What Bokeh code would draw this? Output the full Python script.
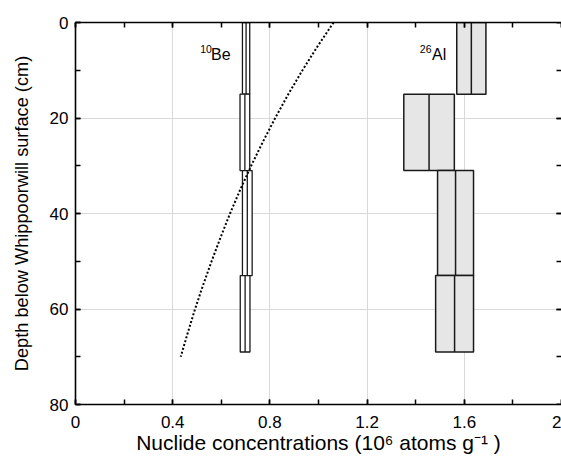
from bokeh.plotting import figure
from bokeh.models import (Range1d, SingleIntervalTicker, FixedTicker, LinearAxis, Label,
                          ColumnDataSource, CustomJSTickFormatter)
from bokeh.embed import file_html
from bokeh.resources import INLINE

# ---- data ----
depth_top = [0, 15, 31, 53]
depth_bot = [15, 31, 53, 69]
be_conc = [0.702, 0.697, 0.707, 0.698]
be_err = [0.015, 0.020, 0.020, 0.020]
al_conc = [1.629, 1.455, 1.564, 1.560]
al_err = [0.060, 0.104, 0.074, 0.078]

model_depth = [0, 5, 10, 15, 20, 25, 30, 35, 40, 45, 50, 55, 60, 65, 70]
model_be = [1.062, 0.996, 0.934, 0.876, 0.822, 0.771, 0.723, 0.678,
            0.636, 0.597, 0.560, 0.525, 0.492, 0.462, 0.433]

x_major = [0.4, 0.8, 1.2, 1.6]
y_major = [20, 40, 60]
x_end = 2.0

FONT = "Liberation Sans"

be_src = ColumnDataSource(dict(
    left=[c - e for c, e in zip(be_conc, be_err)],
    right=[c + e for c, e in zip(be_conc, be_err)],
    mid=be_conc, top=depth_top, bottom=depth_bot))
al_src = ColumnDataSource(dict(
    left=[c - e for c, e in zip(al_conc, al_err)],
    right=[c + e for c, e in zip(al_conc, al_err)],
    mid=al_conc, top=depth_top, bottom=depth_bot))

p = figure(width=561, height=460, x_range=Range1d(0, x_end), y_range=Range1d(80, 0),
           output_backend="svg", toolbar_location=None,
           min_border_left=75, min_border_right=0, min_border_top=22, min_border_bottom=56)
p.outline_line_color = None
p.background_fill_color = "white"
p.border_fill_color = "white"

# grids
p.xgrid.ticker = FixedTicker(ticks=x_major)
p.ygrid.ticker = FixedTicker(ticks=y_major)
p.xgrid.grid_line_color = "#d9d9d9"
p.ygrid.grid_line_color = "#d9d9d9"
p.xgrid.grid_line_width = 1
p.ygrid.grid_line_width = 1

fmt = CustomJSTickFormatter(code="return Number(tick.toFixed(2)).toString();")


def style_axis(ax, labels=True):
    ax.axis_line_color = "black"
    ax.axis_line_width = 1.6
    ax.major_tick_in = 5
    ax.major_tick_out = 0
    ax.minor_tick_in = 5
    ax.minor_tick_out = 0
    ax.major_tick_line_color = "black"
    ax.minor_tick_line_color = "black"
    ax.major_tick_line_width = 1.5
    ax.minor_tick_line_width = 1.5
    ax.major_label_text_font = FONT
    ax.axis_label_text_font = FONT
    ax.axis_label_text_font_style = "normal"
    ax.axis_label_text_color = "black"
    if labels:
        ax.major_label_text_font_size = "17px"
        ax.major_label_text_color = "black"
    else:
        # tick marks only: labels are not drawn
        ax.major_label_text_font_size = "1px"
        ax.major_label_text_color = None
        ax.major_label_standoff = 0
        ax.axis_label_standoff = 0


xb = p.xaxis[0]
xb.ticker = SingleIntervalTicker(interval=0.4, num_minor_ticks=2)
xb.formatter = fmt
style_axis(xb)
xb.major_label_standoff = 11
xb.axis_label = "Nuclide concentrations (10\u2076 atoms g\u207b\u00b9 )"
xb.axis_label_text_font_size = "21px"
xb.axis_label_standoff = 0

yl = p.yaxis[0]
yl.ticker = SingleIntervalTicker(interval=20, num_minor_ticks=2)
style_axis(yl)
yl.major_label_standoff = 7
yl.axis_label = "Depth below Whippoorwill surface (cm)"
yl.axis_label_text_font_size = "18.2px"
yl.axis_label_standoff = 15

xt = LinearAxis(ticker=SingleIntervalTicker(interval=0.4, num_minor_ticks=2))
style_axis(xt, labels=False)
p.add_layout(xt, "above")

# right-hand tick marks at the right edge of the frame (no border space taken)
yr = LinearAxis(ticker=SingleIntervalTicker(interval=20, num_minor_ticks=2), fixed_location=x_end)
style_axis(yr, labels=False)
yr.axis_line_color = None
p.add_layout(yr, "right")

# 26Al boxes
p.quad(left="left", right="right", top="top", bottom="bottom", source=al_src,
       fill_color="#e6e6e6", line_color="#1a1a1a", line_width=1.5)
p.segment(x0="mid", y0="top", x1="mid", y1="bottom", source=al_src,
          line_color="#1a1a1a", line_width=1.5)

# 10Be boxes
p.quad(left="left", right="right", top="top", bottom="bottom", source=be_src,
       fill_color="white", line_color="#1a1a1a", line_width=1.3)
p.segment(x0="mid", y0="top", x1="mid", y1="bottom", source=be_src,
          line_color="#1a1a1a", line_width=1.3)

# model curve
p.line(model_be, model_depth, line_color="black", line_width=2, line_dash="2 2")

# labels
for txt, x, y, size in [("10", 0.513, 5.5, "10.5px"), ("Be", 0.558, 6.7, "16px"),
                        ("26", 1.417, 5.5, "10.5px"), ("Al", 1.467, 6.7, "16px")]:
    p.add_layout(Label(x=x, y=y, text=txt, text_font=FONT, text_font_size=size,
                       text_baseline="alphabetic", text_align="left", text_color="black"))

open("out.html", "w").write(file_html(p, INLINE))
